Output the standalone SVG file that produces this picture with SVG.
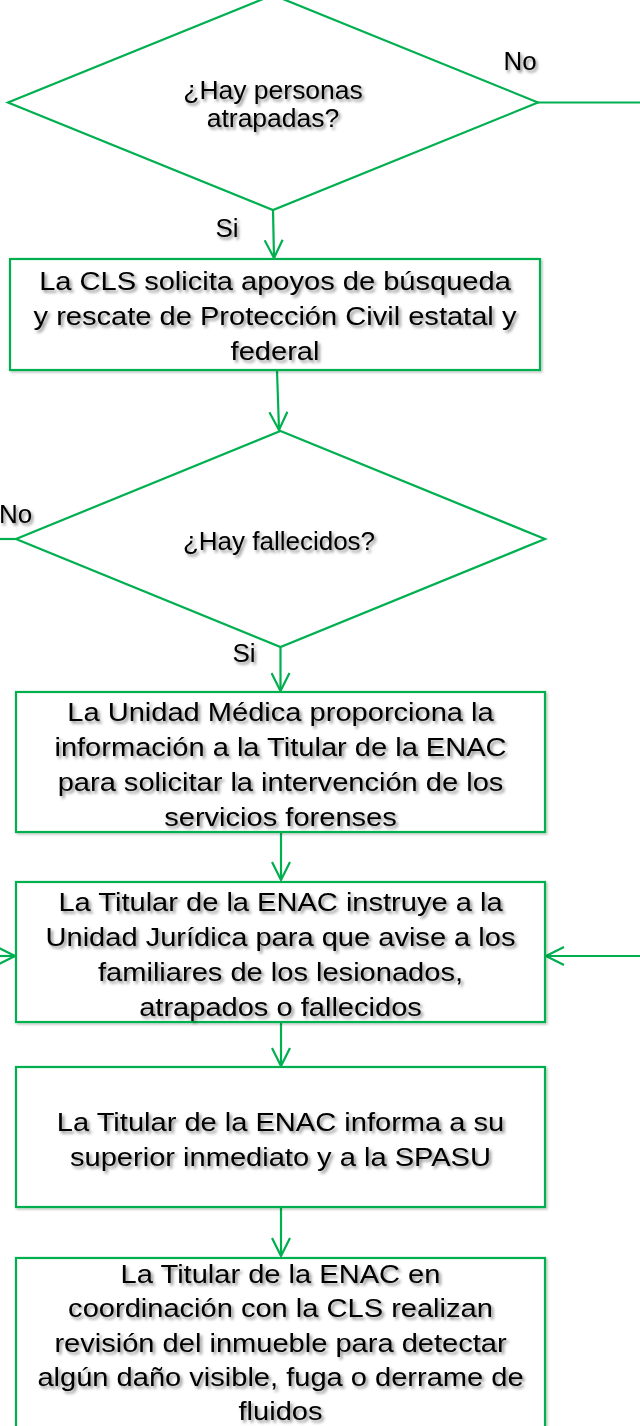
<svg xmlns="http://www.w3.org/2000/svg" width="640" height="1426" viewBox="0 0 640 1426">
<style>
.shape{fill:#fff;stroke:#00B050;stroke-width:2.2}
.box{filter:url(#bshadow)}
.conn{stroke:#00B050;stroke-width:2.2;fill:none}
.t{font-family:"Liberation Sans",Arial,sans-serif;font-size:25.5px;fill:#000;text-anchor:middle}
.d{font-family:"Liberation Sans",Arial,sans-serif;font-size:25px;fill:#000;text-anchor:middle}
.lbl{font-family:"Liberation Sans",Arial,sans-serif;font-size:25px;fill:#000;text-anchor:middle}
.sh{filter:url(#tshadow)}
</style>
<defs>
<filter id="tshadow" x="-10%" y="-30%" width="120%" height="160%">
<feDropShadow dx="2" dy="2.5" stdDeviation="1.6" flood-color="#000" flood-opacity="0.45"/>
</filter>
<filter id="bshadow" x="-5%" y="-5%" width="110%" height="115%">
<feDropShadow dx="1.5" dy="1.5" stdDeviation="1.2" flood-color="#000" flood-opacity="0.25"/>
</filter>
<marker id="arr" markerUnits="userSpaceOnUse" viewBox="0 0 20 20" markerWidth="20" markerHeight="20" refX="19" refY="10" orient="auto">
<path d="M1,1 L19,10 L1,19" fill="none" stroke="#00B050" stroke-width="2.2"/>
</marker>
</defs>
<rect width="640" height="1426" fill="#fff"/>

<g id="connectors">
<line class="conn" x1="273" y1="210" x2="274" y2="258" marker-end="url(#arr)"/>
<line class="conn" x1="277" y1="370" x2="279" y2="430" marker-end="url(#arr)"/>
<line class="conn" x1="280.5" y1="647" x2="280.5" y2="691" marker-end="url(#arr)"/>
<line class="conn" x1="281" y1="832" x2="281" y2="880" marker-end="url(#arr)"/>
<line class="conn" x1="281" y1="1022" x2="281" y2="1066" marker-end="url(#arr)"/>
<line class="conn" x1="281" y1="1207" x2="281" y2="1256" marker-end="url(#arr)"/>
<line class="conn" x1="538" y1="102.5" x2="640" y2="102.5"/>
<line class="conn" x1="16" y1="539" x2="0" y2="539"/>
<line class="conn" x1="0" y1="956" x2="15" y2="956" marker-end="url(#arr)"/>
<line class="conn" x1="640" y1="956" x2="546" y2="956" marker-end="url(#arr)"/>
<g class="sh">
<g transform="translate(520,0) scale(1.04,1)"><text class="lbl" x="0" y="70">No</text></g>
<g transform="translate(227,0) scale(1.04,1)"><text class="lbl" x="0" y="237">Si</text></g>
<g transform="translate(15.5,0) scale(1.04,1)"><text class="lbl" x="0" y="523">No</text></g>
<g transform="translate(244,0) scale(1.04,1)"><text class="lbl" x="0" y="662">Si</text></g>
</g>
</g>

<g id="d1">
<polygon class="shape" points="273,-5 538,102.5 273,210 8,102.5"/>
<g class="sh" transform="translate(273,0) scale(1.06,1)">
<text class="d" x="0" y="99">¿Hay personas</text>
<text class="d" x="0" y="127">atrapadas?</text>
</g>
</g>

<g id="b1">
<rect class="shape box" x="10" y="259" width="530" height="111"/>
<g class="sh" transform="translate(275,0) scale(1.14,1)">
<text class="t" x="0" y="290">La CLS solicita apoyos de búsqueda</text>
<text class="t" x="0" y="325">y rescate de Protección Civil estatal y</text>
<text class="t" x="0" y="360">federal</text>
</g>
</g>

<g id="d2">
<polygon class="shape" points="280.5,431 545,539 280.5,647 16,539"/>
<g class="sh" transform="translate(279,0) scale(1.04,1)">
<text class="d" x="0" y="550">¿Hay fallecidos?</text>
</g>
</g>

<g id="b3">
<rect class="shape box" x="16" y="692" width="529" height="140"/>
<g class="sh" transform="translate(280.5,0) scale(1.14,1)">
<text class="t" x="0" y="721">La Unidad Médica proporciona la</text>
<text class="t" x="0" y="756">información a la Titular de la ENAC</text>
<text class="t" x="0" y="791">para solicitar la intervención de los</text>
<text class="t" x="0" y="826">servicios forenses</text>
</g>
</g>

<g id="b4">
<rect class="shape box" x="16" y="882" width="529" height="140"/>
<g class="sh" transform="translate(280.5,0) scale(1.14,1)">
<text class="t" x="0" y="911">La Titular de la ENAC instruye a la</text>
<text class="t" x="0" y="946">Unidad Jurídica para que avise a los</text>
<text class="t" x="0" y="981">familiares de los lesionados,</text>
<text class="t" x="0" y="1016">atrapados o fallecidos</text>
</g>
</g>

<g id="b5">
<rect class="shape box" x="16" y="1067" width="529" height="140"/>
<g class="sh" transform="translate(280.5,0) scale(1.14,1)">
<text class="t" x="0" y="1131">La Titular de la ENAC informa a su</text>
<text class="t" x="0" y="1166">superior inmediato y a la SPASU</text>
</g>
</g>

<g id="b6">
<rect class="shape box" x="16" y="1258" width="529" height="190"/>
<g class="sh" transform="translate(280.5,0) scale(1.14,1)">
<text class="t" x="0" y="1283">La Titular de la ENAC en</text>
<text class="t" x="0" y="1317.5">coordinación con la CLS realizan</text>
<text class="t" x="0" y="1352">revisión del inmueble para detectar</text>
<text class="t" x="0" y="1386.5">algún daño visible, fuga o derrame de</text>
<text class="t" x="0" y="1420">fluidos</text>
</g>
</g>
</svg>
